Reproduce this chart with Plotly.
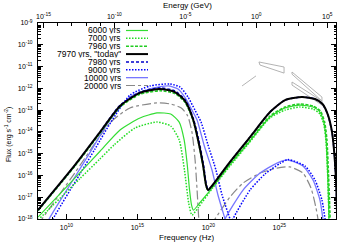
import numpy as np
import plotly.graph_objects as go

# ---------------- data: log10(frequency / Hz) and log10(flux / erg s^-1 cm^-2) ----------------
series_names = ["6000 yrs", "7000 yrs", "7960 yrs", '7970 yrs, "today"',
                "7980 yrs", "9000 yrs", "10000 yrs", "20000 yrs"]

lognu_6000 = [8.00, 10.96, 12.37, 13.78, 15.19, 16.39, 17.35, 17.95, 18.30, 18.52, 18.68, 18.82, 18.95,
              19.45, 20.30, 21.53, 22.94, 24.35, 25.41, 26.46, 27.38, 27.87, 28.15, 28.30, 28.40, 28.47, 28.52]
logF_6000 = [-17.91, -15.87, -14.89, -13.91, -13.36, -13.13, -13.18, -13.55, -14.37, -15.52, -16.67, -17.36, -17.59,
             -17.22, -16.55, -15.50, -14.42, -13.32, -12.90, -12.77, -12.86, -13.09, -13.59, -14.37, -15.75, -17.13, -18.5]

lognu_7000 = [8.00, 10.96, 12.37, 13.36, 14.84, 16.39, 17.35, 17.95, 18.32, 18.62, 18.85, 19.30, 20.30,
              21.53, 22.94, 24.35, 25.41, 26.46, 27.38, 27.87, 28.15, 28.30, 28.40, 28.47, 28.52]
logF_7000 = [-18.05, -16.14, -15.24, -14.60, -13.82, -13.55, -13.73, -14.37, -15.75, -17.27, -17.82, -17.47, -16.58,
             -15.57, -14.46, -13.36, -13.00, -12.86, -12.95, -13.18, -13.68, -14.46, -15.75, -17.13, -18.5]

lognu_7960 = [8.00, 10.61, 12.37, 13.78, 15.19, 16.60, 17.65, 18.36, 18.92, 19.28, 19.63, 19.84, 19.98, 20.26,
              21.53, 22.94, 24.35, 25.41, 26.46, 27.38, 27.90, 28.20, 28.36, 28.46, 28.54, 28.61]
logF_7960 = [-17.62, -15.56, -14.06, -12.86, -12.27, -12.11, -12.24, -12.64, -13.45, -14.40, -15.55, -16.46, -16.69, -16.52,
             -15.45, -14.37, -13.27, -12.86, -12.72, -12.81, -13.04, -13.55, -14.37, -15.75, -17.13, -18.5]

lognu_7970 = [8.00, 10.61, 12.37, 13.78, 15.19, 16.60, 17.65, 18.36, 18.92, 19.28, 19.63, 19.84, 19.98, 20.26,
              21.53, 22.94, 24.35, 25.41, 26.60, 27.52, 28.05, 28.43, 28.72, 28.86, 29.00, 29.10]
logF_7970 = [-17.59, -15.52, -14.01, -12.81, -12.21, -12.03, -12.17, -12.58, -13.41, -14.37, -15.52, -16.44, -16.67, -16.48,
             -15.38, -14.24, -13.09, -12.54, -12.40, -12.49, -12.72, -13.22, -14.01, -14.83, -16.21, -18.5]

lognu_7980 = [8.00, 10.61, 12.37, 13.78, 15.19, 16.60, 17.65, 18.40, 18.96, 19.33, 19.67, 19.87, 20.00, 20.26,
              21.53, 22.94, 24.35, 25.41, 26.60, 27.52, 28.05, 28.43, 28.72, 28.86, 29.00, 29.10]
logF_7980 = [-17.59, -15.52, -14.00, -12.78, -12.17, -11.98, -12.12, -12.55, -13.41, -14.37, -15.52, -16.44, -16.67, -16.48,
             -15.38, -14.24, -13.09, -12.54, -12.40, -12.49, -12.72, -13.22, -14.01, -14.83, -16.21, -18.5]

lognu_9000 = [8.92, 9.06, 10.96, 12.02, 13.14, 14.48, 15.89, 17.30, 18.01, 18.57, 19.06, 19.49, 19.98, 20.54, 20.97, 21.53, 21.67,
              None,
              21.60, 21.74, 22.94, 24.00, 25.05, 25.62, 26.82, 27.52, 28.01, 28.23, 28.30]
logF_9000 = [-18.28, -18.00, -15.93, -14.78, -13.55, -12.31, -11.89, -11.80, -11.94, -12.40, -13.00, -13.55, -14.60, -15.75, -16.90, -18.00, -18.32,
             None,
             -18.32, -18.00, -16.67, -15.93, -15.45, -15.27, -15.57, -16.21, -17.13, -18.00, -18.32]

lognu_10000 = [8.63, 8.78, 10.61, 11.66, 13.07, 14.48, 15.89, 17.16, 17.87, 18.43, 18.85, 19.21, 19.70, 20.26, 20.68, 21.18, 21.32,
               None,
               21.04, 21.18, 22.45, 23.65, 24.84, 25.62, 26.67, 27.38, 27.87, 28.08, 28.15]
logF_10000 = [-18.28, -18.00, -16.06, -14.95, -13.45, -12.40, -12.03, -11.89, -12.03, -12.49, -13.00, -13.45, -14.60, -15.75, -16.90, -18.00, -18.32,
              None,
              -18.32, -18.00, -16.67, -15.89, -15.43, -15.29, -15.57, -16.21, -17.13, -18.00, -18.32]

lognu_20000 = [8.00, 8.28, 10.61, 13.07, 14.48, 16.39, 17.35, 18.10, 18.55, 18.85, 19.07, 19.21, 19.33, 19.40,
               None,
               20.19, 20.47, 21.53, 22.45, 23.65, 24.84, 25.76, 26.67, 27.24, 27.59, 27.73, 27.80]
logF_20000 = [-18.25, -18.00, -15.87, -13.59, -12.90, -12.67, -12.72, -12.90, -13.27, -14.01, -15.29, -16.67, -18.00, -18.50,
              None,
              -18.28, -18.00, -16.99, -16.35, -15.89, -15.66, -15.61, -15.89, -16.58, -17.49, -18.00, -18.32]

# observational butterflies (grey outlines), log10 values
obs_segment_lognu = [22.38, 23.36]
obs_segment_logF = [-11.89, -11.43]
bowtie1_lognu = [23.57, 25.34, 25.34, 23.64, 23.57]
bowtie1_logF = [-10.79, -11.02, -11.30, -10.93, -10.79]
bowtie2_lognu = [25.90, 28.01, 28.01, 25.90, 25.90]
bowtie2_logF = [-11.25, -12.40, -12.58, -11.35, -11.25]
bowtie3_lognu = [25.90, 28.01, 28.01, 25.90, 25.90]
bowtie3_logF = [-11.71, -12.58, -12.77, -11.85, -11.71]

# axis tick values
x_tick_exps = [10, 15, 20, 25]
y_tick_exps = [-9, -10, -11, -12, -13, -14, -15, -16, -17, -18]
e_tick_exps = [-15, -10, -5, 0, 5]

H_GEV_S = 4.135667e-24  # Planck constant in GeV s
NU_RANGE = [8, 29]
F_RANGE = [-18, -9]

# ---------------- styling ----------------
colors = ["#33dd33", "#22dd22", "#22cc22", "#000000", "#0000cc", "#0000ff", "#7777ff", "#888888"]
dashes = ["solid", "1.5px,1.5px", "3px,1.5px", "solid", "3px,2px", "1.5px,1.5px", "solid", "dashdot"]
widths = [1.2, 1.5, 1.6, 2.0, 1.5, 1.5, 1.3, 1.2]

data_x = [lognu_6000, lognu_7000, lognu_7960, lognu_7970, lognu_7980, lognu_9000, lognu_10000, lognu_20000]
data_y = [logF_6000, logF_7000, logF_7960, logF_7970, logF_7980, logF_9000, logF_10000, logF_20000]


def pw(v):
    return [None if a is None else 10 ** a for a in v]


fig = go.Figure()

# observational outlines
for lx, ly in [(obs_segment_lognu, obs_segment_logF), (bowtie1_lognu, bowtie1_logF),
               (bowtie2_lognu, bowtie2_logF), (bowtie3_lognu, bowtie3_logF)]:
    fig.add_trace(go.Scatter(x=pw(lx), y=pw(ly), mode="lines",
                             line=dict(color="#aaaaaa", width=0.9),
                             showlegend=False, hoverinfo="skip"))

order = [7, 6, 5, 0, 1, 2, 4, 3]
for i in order:
    fig.add_trace(go.Scatter(x=pw(data_x[i]), y=pw(data_y[i]), mode="lines",
                             name=series_names[i], connectgaps=False,
                             line=dict(color=colors[i], dash=dashes[i], width=widths[i],
                                       shape="spline", smoothing=0.6),
                             showlegend=False, hoverinfo="skip"))

# invisible trace on the energy axis so it is drawn
fig.add_trace(go.Scatter(x=[1e-15], y=[1e-30], xaxis="x2", yaxis="y", mode="markers",
                         marker=dict(opacity=0), showlegend=False, hoverinfo="skip"))

FONT = "Liberation Sans, Arial, sans-serif"
tickfont = dict(family=FONT, size=7, color="#000")


def sup(e):
    return "10<sup>%d</sup>" % e


x_minor = [10.0 ** k for k in range(NU_RANGE[0], NU_RANGE[1] + 1)]
y_minor = [m * 10.0 ** k for k in range(F_RANGE[0], F_RANGE[1]) for m in range(2, 10)]
e_lo = np.log10(10 ** NU_RANGE[0] * H_GEV_S)
e_hi = np.log10(10 ** NU_RANGE[1] * H_GEV_S)
e_minor = [10.0 ** k for k in range(int(np.floor(e_lo)), int(np.ceil(e_hi)) + 1)]

fig.update_layout(
    width=350, height=245,
    margin=dict(l=38, r=14, t=23, b=26),
    paper_bgcolor="white", plot_bgcolor="white",
    showlegend=False,
    font=dict(family=FONT, size=8, color="#000"),
    xaxis=dict(type="log", range=NU_RANGE, tickvals=[10.0 ** e for e in x_tick_exps],
               ticktext=[sup(e) for e in x_tick_exps], ticks="inside", ticklen=5, tickwidth=1,
               tickcolor="#000", showline=True, linecolor="#000", linewidth=1, mirror=False,
               showgrid=False, zeroline=False, tickfont=tickfont, ticklabelstandoff=2,
               minor=dict(tickvals=x_minor, ticks="inside", ticklen=2.5, tickcolor="#000", showgrid=False)),
    xaxis2=dict(type="log", range=[e_lo, e_hi], overlaying="x", side="top", anchor="y",
                tickvals=[10.0 ** e for e in e_tick_exps], ticktext=[sup(e) for e in e_tick_exps],
                ticks="inside", ticklen=5, tickcolor="#000", showline=True, linecolor="#000",
                linewidth=1, showgrid=False, zeroline=False, tickfont=tickfont,
                minor=dict(tickvals=e_minor, ticks="inside", ticklen=2.5, tickcolor="#000", showgrid=False)),
    yaxis=dict(type="log", range=F_RANGE, tickvals=[10.0 ** e for e in y_tick_exps],
               ticktext=[sup(e) for e in y_tick_exps], ticks="inside", ticklen=5, tickcolor="#000",
               showline=True, linecolor="#000", linewidth=1, mirror="ticks", showgrid=False,
               zeroline=False, tickfont=tickfont, ticklabelstandoff=3,
               minor=dict(tickvals=y_minor, ticks="inside", ticklen=2.5, tickcolor="#000", showgrid=False)),
)

PW, PH = 298.0, 196.0


def px_x(px):
    return (px - 38) / PW


def px_y(py):
    return (219 - py) / PH


# axis titles
fig.add_annotation(text="Frequency (Hz)", xref="paper", yref="paper", x=px_x(186), y=px_y(237.5),
                   xanchor="center", yanchor="middle", showarrow=False, font=dict(size=8), height=9)
fig.add_annotation(text="Energy (GeV)", xref="paper", yref="paper", x=px_x(187), y=px_y(5.5),
                   xanchor="center", yanchor="middle", showarrow=False, font=dict(size=8), height=9)
fig.add_annotation(text="Flux (erg s<sup>-1</sup> cm<sup>-2</sup>)", xref="paper", yref="paper",
                   x=px_x(8), y=px_y(135), xanchor="center", yanchor="middle", textangle=-90,
                   showarrow=False, font=dict(size=7))

# manual legend (text then line sample, like the original)
for k, name in enumerate(series_names):
    py = 30.5 + 7.86 * k
    yp = px_y(py)
    fig.add_annotation(text=name, xref="paper", yref="paper", x=px_x(122), y=yp,
                       xanchor="right", yanchor="middle", showarrow=False, valign="middle",
                       font=dict(size=8.5, family=FONT), borderpad=0, height=7.5)
    fig.add_shape(type="line", xref="paper", yref="paper",
                  x0=px_x(126), x1=px_x(148), y0=yp, y1=yp,
                  line=dict(color=colors[k], dash=dashes[k], width=widths[k]))

# remove the browser's default page margin so the figure sits at the window origin
fig.write_html("out.html", config={"displayModeBar": False, "staticPlot": True},
               post_script="document.body.style.margin='0px';document.body.style.overflow='hidden';")
